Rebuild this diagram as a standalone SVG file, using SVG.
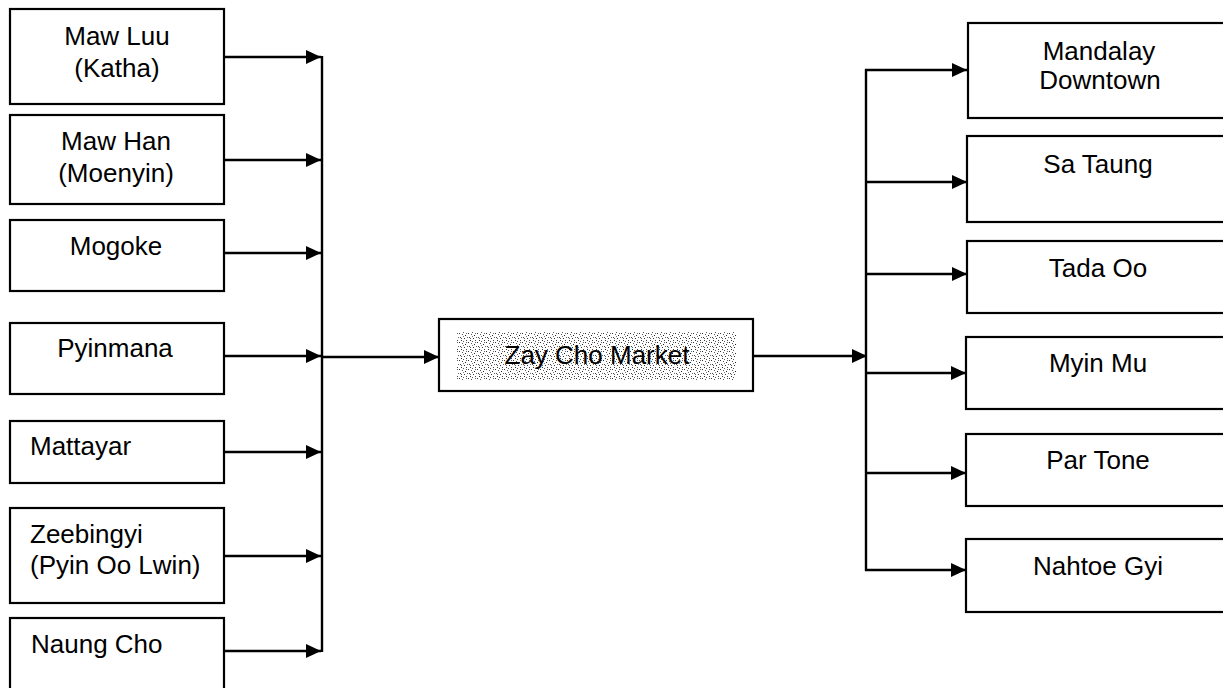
<svg xmlns="http://www.w3.org/2000/svg" width="1223" height="688" viewBox="0 0 1223 688">
  <style>
    .box { fill: #ffffff; stroke: #000000; stroke-width: 2.2; }
    .lbl { font-family: "Liberation Sans", Arial, sans-serif; font-size: 26px; fill: #000000; }
    .mid { text-anchor: middle; }
    .wire { fill: none; stroke: #000000; stroke-width: 2.4; }
  </style>
  <defs>
    <marker id="arrow" markerWidth="16" markerHeight="14" refX="15" refY="7" orient="auto" markerUnits="userSpaceOnUse">
      <path d="M0,0 L15,7 L0,14 Z" fill="#000000"/>
    </marker>
    <!-- speckled halftone fill behind the market label -->
    <pattern id="speckle" width="9" height="9" patternUnits="userSpaceOnUse">
      <rect width="9" height="9" fill="#ffffff"/>
      <rect x="0" y="0" width="1" height="1" fill="#333"/>
      <rect x="3" y="1" width="1" height="1" fill="#555"/>
      <rect x="6" y="2" width="1" height="1" fill="#222"/>
      <rect x="1" y="4" width="1" height="1" fill="#444"/>
      <rect x="2" y="5" width="1" height="1" fill="#666"/>
      <rect x="5" y="5" width="1" height="1" fill="#333"/>
      <rect x="8" y="4" width="1" height="1" fill="#666"/>
      <rect x="2" y="7" width="1" height="1" fill="#333"/>
      <rect x="7" y="7" width="1" height="1" fill="#444"/>
      <rect x="4" y="3" width="1" height="1" fill="#777"/>
      <rect x="4" y="8" width="1" height="1" fill="#555"/>
      <rect x="7" y="0" width="1" height="1" fill="#666"/>
    </pattern>
  </defs>
  <rect width="1223" height="688" fill="#ffffff"/>

  <!-- source markets -->
  <g id="maw-luu">
    <rect class="box" x="10" y="9" width="214" height="95"/>
    <text class="lbl mid" x="117" y="45">Maw Luu</text>
    <text class="lbl mid" x="117" y="77">(Katha)</text>
  </g>
  <g id="maw-han">
    <rect class="box" x="10" y="115" width="214" height="89"/>
    <text class="lbl mid" x="116" y="150">Maw Han</text>
    <text class="lbl mid" x="116" y="182">(Moenyin)</text>
  </g>
  <g id="mogoke">
    <rect class="box" x="10" y="220" width="214" height="71"/>
    <text class="lbl mid" x="116" y="255">Mogoke</text>
  </g>
  <g id="pyinmana">
    <rect class="box" x="10" y="323" width="214" height="71"/>
    <text class="lbl mid" x="115" y="357">Pyinmana</text>
  </g>
  <g id="mattayar">
    <rect class="box" x="10" y="421" width="214" height="62"/>
    <text class="lbl" x="30" y="455">Mattayar</text>
  </g>
  <g id="zeebingyi">
    <rect class="box" x="10" y="508" width="214" height="95"/>
    <text class="lbl" x="30" y="543">Zeebingyi</text>
    <text class="lbl" x="30" y="574">(Pyin Oo Lwin)</text>
  </g>
  <g id="naung-cho">
    <rect class="box" x="10" y="618" width="214" height="80"/>
    <text class="lbl" x="31" y="653">Naung Cho</text>
  </g>

  <!-- central market -->
  <g id="zay-cho-market">
    <rect class="box" x="439" y="319" width="314" height="72"/>
    <rect x="457" y="332" width="279" height="48" fill="url(#speckle)"/>
    <text class="lbl mid" x="597" y="364">Zay Cho Market</text>
  </g>

  <!-- destination markets -->
  <g id="mandalay-downtown">
    <rect class="box" x="968" y="23" width="262" height="95"/>
    <text class="lbl mid" x="1099" y="60">Mandalay</text>
    <text class="lbl mid" x="1100" y="89">Downtown</text>
  </g>
  <g id="sa-taung">
    <rect class="box" x="967" y="136" width="263" height="86"/>
    <text class="lbl mid" x="1098" y="173">Sa Taung</text>
  </g>
  <g id="tada-oo">
    <rect class="box" x="967" y="241" width="263" height="72"/>
    <text class="lbl mid" x="1098" y="277">Tada Oo</text>
  </g>
  <g id="myin-mu">
    <rect class="box" x="966" y="337" width="264" height="72"/>
    <text class="lbl mid" x="1098" y="372">Myin Mu</text>
  </g>
  <g id="par-tone">
    <rect class="box" x="966" y="434" width="264" height="72"/>
    <text class="lbl mid" x="1098" y="469">Par Tone</text>
  </g>
  <g id="nahtoe-gyi">
    <rect class="box" x="966" y="539" width="264" height="73"/>
    <text class="lbl mid" x="1098" y="575">Nahtoe Gyi</text>
  </g>

  <!-- connectors -->
  <g id="connectors">
    <!-- collecting bus on the left -->
    <line class="wire" x1="322" y1="56" x2="322" y2="652"/>
    <line class="wire" x1="224" y1="57" x2="321" y2="57" marker-end="url(#arrow)"/>
    <line class="wire" x1="224" y1="160" x2="321" y2="160" marker-end="url(#arrow)"/>
    <line class="wire" x1="224" y1="253" x2="321" y2="253" marker-end="url(#arrow)"/>
    <line class="wire" x1="224" y1="356" x2="321" y2="356" marker-end="url(#arrow)"/>
    <line class="wire" x1="224" y1="452" x2="321" y2="452" marker-end="url(#arrow)"/>
    <line class="wire" x1="224" y1="556" x2="321" y2="556" marker-end="url(#arrow)"/>
    <line class="wire" x1="224" y1="651" x2="321" y2="651" marker-end="url(#arrow)"/>
    <!-- into and out of the central market -->
    <line class="wire" x1="322" y1="357" x2="439" y2="357" marker-end="url(#arrow)"/>
    <line class="wire" x1="753" y1="356" x2="867" y2="356" marker-end="url(#arrow)"/>
    <!-- distribution bus on the right -->
    <line class="wire" x1="866" y1="69" x2="866" y2="571"/>
    <line class="wire" x1="865" y1="70" x2="967" y2="70" marker-end="url(#arrow)"/>
    <line class="wire" x1="865" y1="182" x2="967" y2="182" marker-end="url(#arrow)"/>
    <line class="wire" x1="865" y1="274" x2="967" y2="274" marker-end="url(#arrow)"/>
    <line class="wire" x1="865" y1="373" x2="966" y2="373" marker-end="url(#arrow)"/>
    <line class="wire" x1="865" y1="473" x2="966" y2="473" marker-end="url(#arrow)"/>
    <line class="wire" x1="865" y1="570" x2="966" y2="570" marker-end="url(#arrow)"/>
  </g>
</svg>
